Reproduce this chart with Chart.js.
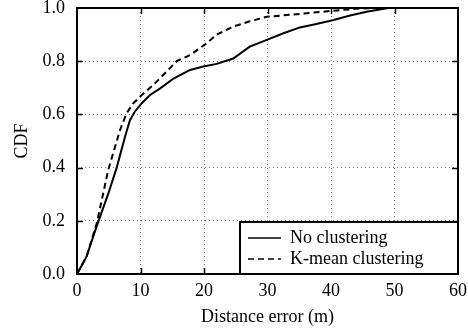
<!DOCTYPE html>
<html>
<head>
<meta charset="utf-8">
<script src="https://cdn.jsdelivr.net/npm/chart.js@4/dist/chart.umd.min.js"></script>
<style>
  html, body { margin: 0; padding: 0; background: #fff; }
  #wrap { width: 468px; height: 331px; }
</style>
</head>
<body>
<div id="wrap"><canvas id="mycanvas" width="468" height="331"></canvas></div>
<script>
// values
var seriesNames = ["No clustering", "K-mean clustering"];

var noClusterX = [0, 1.5, 3.1, 4.9, 6.25, 7.56, 8.35, 9.1, 10.2, 11.5, 13.1, 15.2, 17.8, 19.9, 22.0, 24.6, 27.2, 29.9, 32.5, 35.1, 37.7, 40.4, 43.0, 45.6, 49.0];
var noClusterY = [0, 0.065, 0.18, 0.30, 0.40, 0.516, 0.579, 0.61, 0.642, 0.673, 0.698, 0.735, 0.767, 0.78, 0.79, 0.81, 0.855, 0.88, 0.905, 0.927, 0.94, 0.955, 0.972, 0.986, 1.0];

var kmeanX = [0, 1.5, 3.1, 4.1, 4.9, 5.46, 6.77, 7.8, 8.87, 10.2, 12.0, 15.7, 17.8, 20.4, 22.0, 24.6, 27.2, 29.9, 35.1, 38.3, 41.4, 44.6, 46.5];
var kmeanY = [0, 0.065, 0.19, 0.30, 0.39, 0.435, 0.541, 0.604, 0.642, 0.673, 0.71, 0.80, 0.823, 0.867, 0.90, 0.93, 0.95, 0.967, 0.978, 0.985, 0.992, 0.998, 1.0];

var xTicks = [0, 10, 20, 30, 40, 50, 60];
var yTicks = [0.0, 0.2, 0.4, 0.6, 0.8, 1.0];

function toPoints(xs, ys) {
	var pts = [];
	for (var i in xs) {
		pts.push({x: xs[i], y: ys[i]});
	}
	return pts;
}

var FONT = "'Liberation Serif', 'Times New Roman', serif";

// frame, inward tick marks and the boxed legend
var framePlugin = {
	id: 'frame',
	afterDatasetsDraw: function(chart) {
		var ctx = chart.ctx;
		var a = chart.chartArea;
		var xs = chart.scales.x, ys = chart.scales.y;
		ctx.save();
		ctx.strokeStyle = '#000';
		ctx.lineWidth = 1.5;
		ctx.setLineDash([]);
		ctx.beginPath();
		for (var i = 1; i < xTicks.length - 1; i++) {
			var px = Math.round(xs.getPixelForValue(xTicks[i])) + 0.5;
			ctx.moveTo(px, a.bottom); ctx.lineTo(px, a.bottom - 6);
			ctx.moveTo(px, a.top); ctx.lineTo(px, a.top + 6);
		}
		for (var j = 1; j < yTicks.length - 1; j++) {
			var py = Math.round(ys.getPixelForValue(yTicks[j])) + 0.5;
			ctx.moveTo(a.left, py); ctx.lineTo(a.left + 6, py);
			ctx.moveTo(a.right, py); ctx.lineTo(a.right - 6, py);
		}
		ctx.stroke();
		ctx.lineWidth = 2;
		ctx.strokeRect(a.left, a.top, a.right - a.left, a.bottom - a.top);

		// legend box in lower right corner
		var bw = 218, bh = 52;
		var bx = a.right - bw, by = a.bottom - bh;
		ctx.fillStyle = '#fff';
		ctx.fillRect(bx, by, bw, bh);
		ctx.lineWidth = 2;
		ctx.strokeRect(bx, by, bw, bh);
		ctx.font = '18px ' + FONT;
		ctx.textBaseline = 'middle';
		ctx.textAlign = 'left';
		chart.data.datasets.forEach(function(ds, k) {
			var ly = by + 16 + k * 21;
			ctx.strokeStyle = '#000';
			ctx.lineWidth = 1.5;
			ctx.setLineDash(ds.borderDash || []);
			ctx.beginPath();
			ctx.moveTo(bx + 8, ly); ctx.lineTo(bx + 41, ly);
			ctx.stroke();
			ctx.setLineDash([]);
			ctx.fillStyle = '#000';
			ctx.fillText(ds.label, bx + 50, ly);
		});
		ctx.restore();
	}
};

var chartdata = {
	datasets: [
		{
			label: seriesNames[0],
			data: toPoints(noClusterX, noClusterY),
			borderColor: '#000',
			borderWidth: 2,
			pointRadius: 0,
			fill: false,
			tension: 0
		},
		{
			label: seriesNames[1],
			data: toPoints(kmeanX, kmeanY),
			borderColor: '#000',
			borderWidth: 2,
			borderDash: [6, 4],
			pointRadius: 0,
			fill: false,
			tension: 0
		}
	]
};

var ctx = document.getElementById('mycanvas');

var LineGraph = new Chart(ctx, {
	type: 'line',
	data: chartdata,
	options: {
		responsive: false,
		animation: false,
		layout: { padding: { left: 0, right: 10, top: 8, bottom: 0 } },
		plugins: { legend: { display: false }, tooltip: { enabled: false } },
		scales: {
			x: {
				type: 'linear',
				min: 0, max: 60,
				afterBuildTicks: function(s) { s.ticks = xTicks.map(function(v) { return {value: v}; }); },
				afterFit: function(s) { s.height = 57; s.paddingLeft = 0; s.paddingRight = 0; },
				grid: { color: '#777', lineWidth: 1, drawTicks: false },
				border: { display: false, dash: [1, 3] },
				ticks: { color: '#000', padding: 6, maxRotation: 0, font: { family: FONT, size: 18 } },
				title: { display: true, text: 'Distance error (m)', color: '#000', padding: { top: 0, bottom: 3 }, font: { family: FONT, size: 18 } }
			},
			y: {
				type: 'linear',
				min: 0, max: 1,
				afterBuildTicks: function(s) { s.ticks = yTicks.map(function(v) { return {value: v}; }); },
				afterFit: function(s) { s.width = 77; s.paddingTop = 0; s.paddingBottom = 0; },
				grid: { color: '#777', lineWidth: 1, drawTicks: false },
				border: { display: false, dash: [1, 3] },
				ticks: { color: '#000', padding: 12, font: { family: FONT, size: 18 },
					callback: function(v) { return v.toFixed(1); } },
				title: { display: true, text: 'CDF', color: '#000', padding: { top: 11, bottom: 0 }, font: { family: FONT, size: 18 } }
			}
		}
	},
	plugins: [framePlugin]
});
</script>
</body>
</html>
